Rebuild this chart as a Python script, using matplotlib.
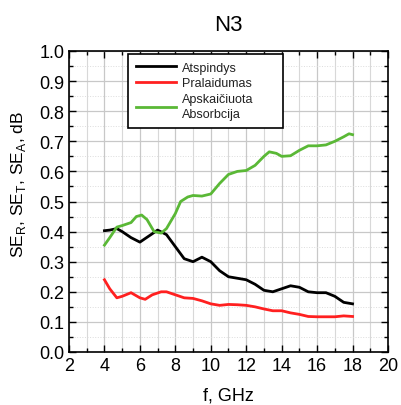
import matplotlib
matplotlib.use("Agg")
import matplotlib.pyplot as plt
import numpy as np
from matplotlib.ticker import MultipleLocator

plt.rcParams['font.family'] = ['Liberation Sans', 'DejaVu Sans']
plt.rcParams['mathtext.fontset'] = 'custom'
plt.rcParams['mathtext.rm'] = 'Liberation Sans'

f_R = [4, 4.3, 4.7, 5, 5.5, 6, 6.5, 7, 7.5, 8, 8.5, 9, 9.5, 10, 10.5, 11, 11.5, 12, 12.5, 13, 13.5, 14, 14.5, 15, 15.5, 16, 16.5, 17, 17.5, 18]
se_R = [0.403, 0.405, 0.41, 0.40, 0.38, 0.365, 0.385, 0.405, 0.39, 0.35, 0.31, 0.30, 0.315, 0.30, 0.27, 0.25, 0.245, 0.24, 0.225, 0.205, 0.20, 0.21, 0.22, 0.215, 0.20, 0.197, 0.197, 0.185, 0.165, 0.16]

f_T = [4, 4.3, 4.7, 5, 5.5, 6, 6.3, 6.7, 7.2, 7.5, 8, 8.5, 9, 9.5, 10, 10.5, 11, 11.5, 12, 12.5, 13, 13.5, 14, 14.5, 15, 15.5, 16, 16.5, 17, 17.5, 18]
se_T = [0.24, 0.21, 0.18, 0.185, 0.197, 0.18, 0.175, 0.19, 0.20, 0.20, 0.19, 0.18, 0.178, 0.17, 0.16, 0.155, 0.158, 0.157, 0.155, 0.15, 0.143, 0.137, 0.137, 0.13, 0.125, 0.118, 0.117, 0.117, 0.117, 0.12, 0.118]

f_A = [4, 4.3, 4.7, 5, 5.5, 5.8, 6.1, 6.4, 6.8, 7.2, 7.5, 8, 8.3, 8.7, 9, 9.5, 10, 10.5, 11, 11.5, 12, 12.5, 13, 13.3, 13.7, 14, 14.5, 15, 15.5, 16, 16.5, 17, 17.5, 17.8, 18]
se_A = [0.355, 0.38, 0.415, 0.42, 0.43, 0.45, 0.455, 0.44, 0.40, 0.395, 0.41, 0.46, 0.50, 0.515, 0.52, 0.518, 0.525, 0.56, 0.59, 0.60, 0.603, 0.62, 0.65, 0.665, 0.66, 0.65, 0.652, 0.67, 0.685, 0.685, 0.688, 0.70, 0.715, 0.725, 0.722]

labels = ["Atspindys", "Pralaidumas", "Apskaičiuota\nAbsorbcija"]
x_ticks = [2, 4, 6, 8, 10, 12, 14, 16, 18, 20]
y_ticks = [0.0, 0.1, 0.2, 0.3, 0.4, 0.5, 0.6, 0.7, 0.8, 0.9, 1.0]

fig = plt.figure(figsize=(4.02, 4.06), dpi=100)
ax = fig.add_axes([69/402, 1-353/406, (388-69)/402, (353-52)/406])

ax.plot(f_R, se_R, color='black', lw=2, label=labels[0])
ax.plot(f_T, se_T, color='#ff2020', lw=2, label=labels[1])
ax.plot(f_A, se_A, color='#5ab836', lw=2, label=labels[2])

ax.set_xlim(2, 20)
ax.set_ylim(0, 1.0)
ax.set_xticks(x_ticks)
ax.set_yticks(y_ticks)
ax.set_yticklabels([f"{v:.1f}" for v in y_ticks])
ax.xaxis.set_minor_locator(MultipleLocator(1))
ax.yaxis.set_minor_locator(MultipleLocator(0.05))
ax.grid(which='major', color='#c8c8c8', lw=0.9)
ax.grid(which='minor', axis='x', color='#d8d8d8', lw=0.8)
ax.grid(which='minor', axis='y', color='#dcdcdc', lw=0.7, ls=':')
ax.set_axisbelow(True)
ax.tick_params(which='both', direction='in', top=True, right=True, labelsize=13)
ax.tick_params(which='major', length=5, width=1)
ax.tick_params(which='minor', length=3, width=1)
for s in ax.spines.values():
    s.set_linewidth(1.2)

ax.set_xlabel("f, GHz", fontsize=13, labelpad=9)
ax.set_ylabel("SE$_\\mathregular{R}$, SE$_\\mathregular{T}$, SE$_\\mathregular{A}$, dB", fontsize=12.5)
ax.yaxis.set_label_coords(-0.128, 0.56)
ax.set_title("N3", fontsize=16, pad=15)

leg = ax.legend(loc='upper left', bbox_to_anchor=(0.185, 0.761, 0.486, 0.229), mode='expand',
                fontsize=9, handlelength=3.2, frameon=True, fancybox=False, edgecolor='black',
                borderpad=0.6, labelspacing=0.3, handletextpad=0.5, framealpha=1,
                borderaxespad=0)
leg.get_frame().set_linewidth(1.2)
for t in leg.get_texts():
    t.set_color('#222222')
    t.set_linespacing(1.35)

fig.savefig("out.png", dpi=100)
